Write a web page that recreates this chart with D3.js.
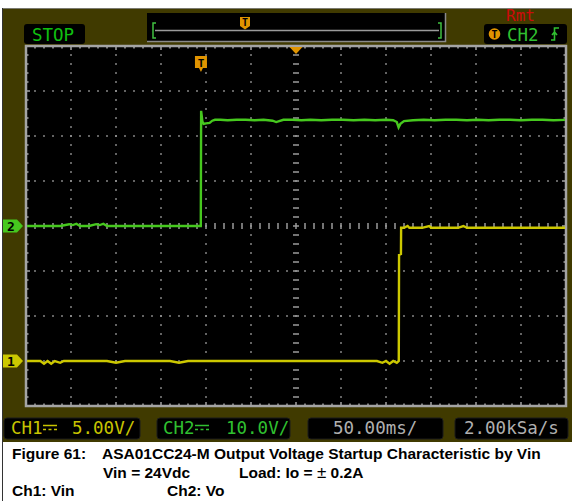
<!DOCTYPE html>
<html><head><meta charset="utf-8">
<script src="https://cdn.jsdelivr.net/npm/d3@7"></script>
<style>body{margin:0;background:#fff}svg{display:block}</style>
</head><body><svg id="c" width="574" height="501"></svg>
<script>
// ---- data (time in ms, voltage in V) ----
const ch2Time = [-300,-288,-276,-262,-252,-248,-244,-240,-230,-222,-218,-214,-210,-198,-186,-174,-162,-150,-138,-126,-116,-108,-105.8,-105.4,-104.8,-104.0,-102.6,-100,-96,-93,-90,-84,-76,-66,-56,-46,-36,-26,-22,-14,-4,6,16,28,40,52,64,76,88,100,108,112,114,116,120,130,142,154,166,178,190,202,214,226,238,250,262,274,286,300];
const ch2Volt = [0,0,0,0,0.4,0.2,0.5,0,0,0.4,0.2,0.5,0,0,0,0,0,0,0,0,0,0,0,25.6,24.6,23.2,22.7,22.8,22.9,23.4,23.6,23.6,23.5,23.6,23.6,23.5,23.6,23.4,23.1,23.6,23.6,23.5,23.6,23.5,23.6,23.6,23.5,23.6,23.5,23.6,23.5,23.1,21.9,22.7,23.3,23.5,23.6,23.5,23.6,23.6,23.5,23.6,23.5,23.6,23.6,23.5,23.6,23.6,23.5,23.6];
const ch1Time = [-300,-292,-284,-280,-276,-272,-268,-262,-258,-250,-240,-230,-220,-210,-200,-190,-180,-170,-160,-150,-140,-130,-120,-110,-100,-90,-80,-70,-60,-50,-40,-30,-20,-10,0,10,20,30,40,50,60,70,80,90,96,100,104,108,112,114.2,114.5,116.6,116.8,120,124,126,130,140,148,150,160,170,180,186,190,200,210,220,230,240,250,260,270,280,290,300];
const ch1Volt = [0,0,0,-0.3,0,-0.3,0,-0.2,0,0,0,0,0,0,-0.2,0,0,0,0,0,0,-0.2,0,0,0,0,0,0,0,0,0,0,0,0,0,0,0,0,0,0,0,0,0,0,-0.2,0,-0.3,0,-0.2,0,11.8,11.9,14.8,14.8,15.0,14.8,14.8,14.8,15.0,14.8,14.8,14.8,14.8,15.0,14.8,14.8,14.8,14.8,14.8,14.8,14.8,14.8,14.8,14.8,14.8,14.8];
const ch1VoltsPerDiv = 5, ch2VoltsPerDiv = 10, msPerDiv = 50;
const ch1OffsetDiv = -3, ch2OffsetDiv = 0;
const triggerTime = -105.6;
const statusLabels = ["STOP","Rmt","CH2"];
const bottomLabels = ["CH1","5.00V/","CH2","10.0V/","50.00ms/","2.00kSa/s"];
const captionLines = [
  ["Figure 61:","ASA01CC24-M Output Voltage Startup Characteristic by Vin"],
  ["","Vin = 24Vdc","Load: Io = ","\u00B1"," 0.2A"],
  ["Ch1: Vin","Ch2: Vo"]
];

// ---- layout ----
const svg = d3.select("#c");
const OLIVE = "#403a00", GRAY = "#a4a4a4", DOT = "#9a9a9a";
const GREEN = "#46c81e", YELLOW = "#ccc800", ORANGE = "#e09400";
const MONO = "DejaVu Sans Mono, monospace";
const gx0 = 26, gx1 = 566, gy0 = 46, gy1 = 406;

const X = d3.scaleLinear().domain([-6*msPerDiv, 6*msPerDiv]).range([gx0, gx1]);
const Ydiv = d3.scaleLinear().domain([-4,4]).range([gy1, gy0]);
const Y1 = d3.scaleLinear().domain([(-4-ch1OffsetDiv)*ch1VoltsPerDiv,(4-ch1OffsetDiv)*ch1VoltsPerDiv]).range([gy1, gy0]);
const Y2 = d3.scaleLinear().domain([(-4-ch2OffsetDiv)*ch2VoltsPerDiv,(4-ch2OffsetDiv)*ch2VoltsPerDiv]).range([gy1, gy0]);

svg.append("rect").attr("width",574).attr("height",501).attr("fill","#fff");
svg.append("rect").attr("x",3).attr("y",8).attr("width",569).attr("height",434).attr("fill",OLIVE);
svg.append("line").attr("x1",3).attr("x2",572).attr("y1",8.5).attr("y2",8.5).attr("stroke","#7a7a70").attr("stroke-width",1);
svg.append("line").attr("x1",2.5).attr("x2",2.5).attr("y1",8).attr("y2",501).attr("stroke","#333").attr("stroke-width",1);

// graticule
svg.append("rect").attr("x",gx0).attr("y",gy0).attr("width",gx1-gx0).attr("height",gy1-gy0).attr("fill","#000");
const g = svg.append("g");
const minorX = d3.range(1, 60).map(j => -300 + j*10);
const minorY = d3.range(1, 40).map(j => -4 + j*0.2);
d3.range(-5,6).filter(k=>k!==0).forEach(k=>{
  g.selectAll(null).data(minorY).enter().append("rect")
   .attr("x",X(k*msPerDiv)-0.8).attr("y",d=>Ydiv(d)-0.8).attr("width",1.6).attr("height",1.6).attr("fill",DOT);
});
d3.range(-3,4).filter(k=>k!==0).forEach(k=>{
  g.selectAll(null).data(minorX).enter().append("rect")
   .attr("x",d=>X(d)-0.8).attr("y",Ydiv(k)-0.8).attr("width",1.6).attr("height",1.6).attr("fill",DOT);
});
g.selectAll(null).data(minorY).enter().append("rect")
  .attr("x",X(0)-3).attr("y",d=>Ydiv(d)-0.75).attr("width",6).attr("height",1.5).attr("fill",DOT);
g.selectAll(null).data(minorX).enter().append("rect")
  .attr("x",d=>X(d)-0.75).attr("y",Ydiv(0)-3).attr("width",1.5).attr("height",6).attr("fill",DOT);
minorX.forEach(d=>{
  const major = Math.abs(d % msPerDiv) < 1e-6;
  const L = major ? 4 : 2.5;
  g.append("rect").attr("x",X(d)-0.75).attr("y",gy0).attr("width",1.5).attr("height",L).attr("fill",GRAY);
  g.append("rect").attr("x",X(d)-0.75).attr("y",gy1-L).attr("width",1.5).attr("height",L).attr("fill",GRAY);
});
minorY.forEach(d=>{
  const major = Math.abs(d - Math.round(d)) < 1e-6;
  const L = major ? 4 : 2.5;
  g.append("rect").attr("x",gx0).attr("y",Ydiv(d)-0.75).attr("width",L).attr("height",1.5).attr("fill",GRAY);
  g.append("rect").attr("x",gx1-L).attr("y",Ydiv(d)-0.75).attr("width",L).attr("height",1.5).attr("fill",GRAY);
});
svg.append("rect").attr("x",gx0).attr("y",gy0).attr("width",gx1-gx0).attr("height",gy1-gy0)
  .attr("fill","none").attr("stroke",GRAY).attr("stroke-width",2.5);

// traces
svg.append("clipPath").attr("id","clp").append("rect").attr("x",gx0+1).attr("y",gy0+1).attr("width",gx1-gx0-2).attr("height",gy1-gy0-2);
const line1 = d3.line().x((d,i)=>X(ch1Time[i])).y(d=>Y1(d));
const line2 = d3.line().x((d,i)=>X(ch2Time[i])).y(d=>Y2(d));
svg.append("path").attr("d",line2(ch2Volt)).attr("fill","none").attr("stroke",GREEN).attr("stroke-width",2.4).attr("clip-path","url(#clp)");
svg.append("path").attr("d",line1(ch1Volt)).attr("fill","none").attr("stroke",YELLOW).attr("stroke-width",2.4).attr("clip-path","url(#clp)");

// trigger markers
svg.append("path").attr("d",`M${X(0)-6.5},${gy0+1} H${X(0)+6.5} L${X(0)},${gy0+8} Z`).attr("fill",ORANGE);
const tx = X(triggerTime);
svg.append("path").attr("d",`M${tx-6},56 H${tx+6} V68 L${tx+2},68 L${tx},72 L${tx-2},68 H${tx-6} Z`).attr("fill",ORANGE);
svg.append("text").attr("x",tx).attr("y",66.5).attr("text-anchor","middle").attr("font-family",MONO).attr("font-weight","bold").attr("font-size",11).attr("fill","#000").text("T");

function chMarker(y, col, label){
  svg.append("path").attr("d",`M3,${y-6.5} H17 L23,${y} L17,${y+6.5} H3 Z`).attr("fill",col);
  svg.append("text").attr("x",11).attr("y",y+4.5).attr("text-anchor","middle").attr("font-family",MONO).attr("font-weight","bold").attr("font-size",13).attr("fill","#000").text(label);
}
chMarker(Y2(0), GREEN, "2");
chMarker(Y1(0), YELLOW, "1");

// top: STOP box
svg.append("rect").attr("x",24).attr("y",24).attr("width",61).attr("height",20).attr("rx",3).attr("fill","#000");
svg.append("text").attr("x",32).attr("y",40.5).attr("font-family",MONO).attr("font-size",17.5).attr("fill","#10c010").text(statusLabels[0]);
// memory bar
svg.append("rect").attr("x",147).attr("y",13).attr("width",299).attr("height",29).attr("fill","#000");
svg.append("path").attr("d","M147,41.5 H445.5 V13").attr("fill","none").attr("stroke","#8a8a8a").attr("stroke-width",1.5);
svg.append("line").attr("x1",155).attr("x2",439).attr("y1",30.5).attr("y2",30.5).attr("stroke","#9a9a9a").attr("stroke-width",1.5);
svg.append("path").attr("d","M156,23 H153 V38 H156").attr("fill","none").attr("stroke","#40c040").attr("stroke-width",1.5);
svg.append("path").attr("d","M438,23 H441 V38 H438").attr("fill","none").attr("stroke","#40c040").attr("stroke-width",1.5);
svg.append("path").attr("d","M240,17 H250 V26 L245,29.5 L240,26 Z").attr("fill",ORANGE);
svg.append("text").attr("x",245).attr("y",25.5).attr("text-anchor","middle").attr("font-family",MONO).attr("font-weight","bold").attr("font-size",10).attr("fill","#000").text("T");
svg.append("text").attr("x",506).attr("y",21).attr("font-family",MONO).attr("font-size",16).attr("fill","#cc0a0a").text(statusLabels[1]);
svg.append("rect").attr("x",484).attr("y",24).attr("width",83).attr("height",20).attr("rx",3).attr("fill","#000");
svg.append("circle").attr("cx",494.5).attr("cy",34).attr("r",5.8).attr("fill",ORANGE);
svg.append("text").attr("x",494.5).attr("y",38).attr("text-anchor","middle").attr("font-family",MONO).attr("font-weight","bold").attr("font-size",10).attr("fill","#000").text("T");
svg.append("text").attr("x",507).attr("y",40.5).attr("font-family",MONO).attr("font-size",17.5).attr("fill","#30c030").text(statusLabels[2]);
svg.append("path").attr("d","M551,40 H554.5 V28 H559 M552,35 L554.5,32 L557,35").attr("fill","none").attr("stroke","#30c030").attr("stroke-width",1.6);

// bottom status boxes
function box(x,w){ svg.append("rect").attr("x",x).attr("y",418).attr("width",w).attr("height",21).attr("rx",3).attr("fill","#000").attr("stroke","#1a1a1a"); }
box(4,136); box(157,133); box(308,135); box(455,113);
function dcSym(x,col){
  svg.append("line").attr("x1",x).attr("x2",x+14).attr("y1",425.5).attr("y2",425.5).attr("stroke",col).attr("stroke-width",1.5);
  svg.append("line").attr("x1",x).attr("x2",x+14).attr("y1",429.5).attr("y2",429.5).attr("stroke",col).attr("stroke-width",1.5).attr("stroke-dasharray","3,2.5");
}
function st(x,txt,col){ svg.append("text").attr("x",x).attr("y",433.5).attr("font-family",MONO).attr("font-size",17.5).attr("fill",col).text(txt); }
st(11,bottomLabels[0],"#c8c400"); dcSym(43,"#c8c400"); st(72,bottomLabels[1],"#c8c400");
st(163,bottomLabels[2],"#30c030"); dcSym(195,"#30c030"); st(226,bottomLabels[3],"#30c030");
st(333,bottomLabels[4],"#b0b0b0");
st(464,bottomLabels[5],"#b0b0b0");

// caption
const CAP = "Liberation Sans, Arial, sans-serif";
function cap(x,y,txt){ return svg.append("text").attr("x",x).attr("y",y).attr("font-family",CAP).attr("font-weight","bold").attr("font-size",15.5).attr("fill","#000").text(txt); }
cap(12,459,captionLines[0][0]); cap(102,459,captionLines[0][1]);
cap(103,478,captionLines[1][1]);
const l2 = cap(239,478,captionLines[1][2]);
l2.append("tspan").attr("font-weight","normal").attr("font-size",17).text(captionLines[1][3]);
l2.append("tspan").text(captionLines[1][4]);
cap(12,496,captionLines[2][0]); cap(167,496,captionLines[2][1]);
</script></body></html>
